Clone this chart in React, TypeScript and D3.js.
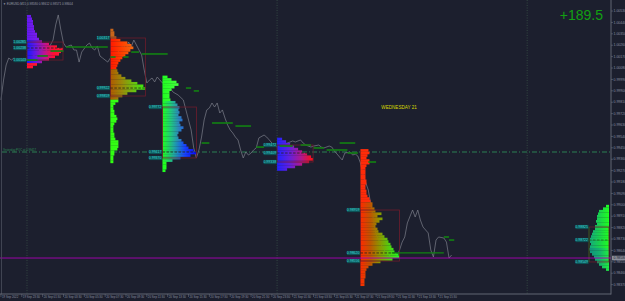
import React from "react";
import * as d3 from "d3";

const W = 625;
const H = 301;
const BG = "#1c1f2e";

// ---------------- data ----------------
// M15 bar index (0 = 20 Sep 2022 00:00) and close price
const closeBars = [-10,-9,-8,-7,-6,-5,-3,-2,-1,
  1,3,5,7,9,10,11,12,13,14,15,
  17,18,19,20,21,23,24,25,26,27,28,29,
  31,32,33,35,36,37,38,39,40,41,43,44,45,46,47,48,49,50,51,52,53,
  55,56,58,60,61,63,64,65,66,67,68,69,70,71,72,73,74,75,76,77,78,79,80,81,82,83,84,85,86,87,88,89,
  91,92,93,94,96,97,99,100,102,103,105,106,107,109,110,112,113,114,116,117,118,119,120,121,122,
  124,125,126,127,128,129,131,132,133,134,136,137,139,140,142,143,144,145,146,148,149,150,151,152,154,155,156,157,158,160,161,162,163];
const closePrices = [0.99828,0.99985,1.00104,1.00159,1.00143,1.00159,1.00135,1.00151,1.00143,
  1.00159,1.00183,1.00222,1.00206,1.00262,1.00301,1.00420,1.00499,1.00380,1.00277,1.00246,
  1.00262,1.00222,1.00222,1.00127,1.00206,1.00262,1.00277,1.00238,1.00222,1.00254,1.00175,1.00159,
  1.00127,1.00159,1.00183,1.00206,1.00238,1.00262,1.00222,1.00285,1.00246,1.00301,1.00222,1.00183,1.00064,0.99962,0.99985,1.00001,0.99970,1.00009,0.99985,0.99962,0.99946,
  0.99922,0.99891,0.99867,0.99828,0.99749,0.99591,0.99449,0.99370,0.99433,0.99535,0.99670,0.99749,0.99764,0.99804,0.99772,0.99804,0.99725,0.99749,0.99685,0.99630,0.99591,0.99567,0.99535,0.99512,0.99433,0.99370,0.99417,0.99393,0.99409,0.99433,0.99449,0.99528,
  0.99551,0.99535,0.99512,0.99488,0.99456,0.99449,0.99472,0.99488,0.99504,0.99496,0.99512,0.99488,0.99472,0.99456,0.99464,0.99472,0.99456,0.99449,0.99464,0.99456,0.99425,0.99401,0.99377,0.99354,0.99409,
  0.99417,0.99393,0.99401,0.99385,0.99330,0.99235,0.99117,0.98999,0.98880,0.98762,0.98683,0.98643,0.98604,0.98580,0.98596,0.98643,0.98706,0.98746,0.98857,0.98959,0.98904,0.98959,0.98880,0.98825,0.98778,0.98643,0.98588,0.98722,0.98746,0.98738,0.98706,0.98580,0.98604];

const priceTicks = [1.00530,1.00440,1.00350,1.00260,1.00170,1.00080,0.99990,0.99900,0.99810,0.99720,
  0.99630,0.99540,0.99450,0.99360,0.99270,0.99180,0.99090,0.99000,0.98910,0.98820,0.98730,0.98640,0.98550,0.98460,0.98370];

const timeTickBars = [-10,-2,6,14,22,30,38,46,54,62,70,78,86,94,102,110,118,126,134,142,150,158];
const timeTickLabels = ["19 Sep 2022","19 Sep 23:30","20 Sep 01:30","20 Sep 03:30","20 Sep 05:30","20 Sep 07:30",
  "20 Sep 09:30","20 Sep 11:30","20 Sep 13:30","20 Sep 15:30","20 Sep 17:30","20 Sep 19:30","20 Sep 21:30",
  "20 Sep 23:30","21 Sep 01:30","21 Sep 03:30","21 Sep 05:30","21 Sep 07:30","21 Sep 09:30","21 Sep 11:30",
  "21 Sep 13:30","21 Sep 15:30"];

const daySeparatorBars = [0, 96, 192];

// session market profiles (TPO counts per 2-pip row, from top price down)
const profile1Rows = [4,5,6,6,7,7,8,10,10,12,15,22,30,36,34,32,28,22,15,10,6];
const profile2Rows = [3,4,4,6,10,17,21,23,20,18,15,12,10,8,7,6,7,8,11,15,21,27,33,35,26,17,12,8,8,5,3,3,4,4,6,7,6,4,3,3,3,4,4,5,8,8,8,7,4,4,3,3,3];
const profile3Rows = [5,9,14,16,12,9,7,7,7,8,13,15,17,16,17,16,19,20,17,18,21,19,16,15,16,19,21,24,26,31,34,28,18,10,4,4,4,3];
const profile4Rows = [5,9,13,17,21,25,30,34,36,32,25,18,10];
const profile5Rows = [8,9,7,6,9,9,6,5,5,5,5,5,6,6,5,5,6,6,7,9,10,12,12,14,15,21,17,22,19,16,15,17,18,22,24,27,28,30,31,33,34,38,39,32,20,12,8,6,5,5,5,4,4,4];
const profile6Rows = [3,6,10,11,12,12,13,12,14,14,16,17,18,19,19,18,19,20,19,17,15,14,12,10,7,3];

const profileStartBars = [0, 32, 52, 96, 128, 223.4];
const profileTopPrices = [1.00499, 1.00390, 1.00020, 0.99530, 0.99440, 0.99000];
const profileVAH = [1.00285, 1.00317, 0.99772, 0.99472, 0.98959, 0.98825];
const profilePOC = [1.00238, 0.99922, 0.99417, 0.99409, 0.98620, 0.98722];
const profileVAL = [1.00143, 0.99859, 0.99370, 0.99338, 0.98556, 0.98549];
const rowPriceStep = 0.0002;

// green POC segments
const segStartBars = [0,4,9,15,32,37,40,44,61,64,67,71,80,88,97,105,110,115,123,120,131,160,162];
const segEndBars =   [4,8,14,31,34,39,43,54,63,66,70,79,86,91,102,109,114,123,127,126,134,162,164];
const segPrices = [1.00143,1.00175,1.00214,1.00246,1.00167,1.00167,1.00206,1.00191,0.99922,0.99899,0.99488,0.99646,0.99622,0.99456,0.99464,0.99472,0.99449,0.99433,0.99409,0.99488,0.99338,0.98746,0.98722];
const pocExtensionBars = [140, 160];

const refLinePrice = 0.99417;
const bidPrice = 0.98580;
const headerOHLC = [0.98580, 0.98612, 0.98571, 0.98604];
const rangeText = "+189.5";
const dayText = "WEDNESDAY 21";

// ---------------- styles ----------------
const palettes: { from: number; stops: string[] }[][] = [
  [ { from: 0, stops: ["#6418f0", "#8a1ee6", "#9c1ad8"] },
    { from: 10, stops: ["#1818ff", "#6a18e0", "#c01490", "#ff1030", "#ff1a3a"] },
    { from: 19, stops: ["#ff1030", "#ff2040"] } ],
  [ { from: 0, stops: ["#c8641a", "#d87018"] },
    { from: 4, stops: ["#ff1800", "#ff4000", "#f06a10", "#c8701e"] },
    { from: 16, stops: ["#b05a00", "#9a8a0a", "#6cc010", "#38f010"] },
    { from: 28, stops: ["#30ff10", "#48ff28"] } ],
  [ { from: 0, stops: ["#20ff20", "#48ff40", "#78ff60"] },
    { from: 10, stops: ["#20ff20", "#20c880", "#2a80c0", "#2050f0", "#1a30ff"] },
    { from: 26, stops: ["#20ff20", "#20a8a0", "#1840ff", "#0808ff"] },
    { from: 34, stops: ["#20ff20", "#30ff30"] } ],
  [ { from: 0, stops: ["#2020ff", "#6020e0", "#b01890", "#ff1010"] } ],
  [ { from: 0, stops: ["#ff2a08", "#ff3810"] },
    { from: 21, stops: ["#ff2a00", "#c05400", "#8c9800", "#50d010", "#20ff20"] } ],
  [ { from: 0, stops: ["#20ff20", "#18d050", "#14a880"] },
    { from: 17, stops: ["#20ee40", "#14b070", "#10907e"] } ],
];

export default function App() {
  const x = d3.scaleLinear().domain([0, 96]).range([27, 277.1]);
  const y = d3.scaleLinear().domain([0.98296, 1.00617]).range([294, 0]);
  const tpo = d3.scaleLinear().domain([0, 1]).range([0, 1]);
  const fmt = d3.format(".5f");
  const plotR = 611;
  const plotB = 294;

  const linePath = d3
    .line<number>()
    .x((_, i) => x(closeBars[i]))
    .y((d) => y(d))(closePrices) as string;

  const rowsList = [profile1Rows, profile2Rows, profile3Rows, profile4Rows, profile5Rows, profile6Rows];
  const profiles = rowsList.map((rows, p) => {
    const anchor = x(profileStartBars[p]);
    const rightAligned = p === 5;
    const maxW = tpo(d3.max(rows) as number);
    const pal = palettes[p];
    const palIdx = (k: number) => {
      let idx = 0;
      pal.forEach((g, j) => { if (k >= g.from) idx = j; });
      return idx;
    };
    return { rows, p, anchor, rightAligned, maxW, pal, palIdx };
  });

  const label = (px: number, py: number, txt: string, key: string) => (
    <g key={key}>
      <rect x={px - 13.5} y={py - 2.1} width={13} height={4.2} fill="#0d5256" />
      <text x={px - 1} y={py + 1.25} fontSize={3.5} fill="#40dcdc" textAnchor="end" fontFamily="Liberation Sans, Arial, sans-serif">{txt}</text>
    </g>
  );

  return (
    <svg width={W} height={H} style={{ position: "absolute", left: 0, top: 0, display: "block" }}>
      <defs>
        {profiles.map((pr) =>
          pr.pal.map((g, j) => {
            const x1 = pr.anchor;
            const x2 = pr.rightAligned ? pr.anchor - pr.maxW : pr.anchor + pr.maxW;
            return (
              <linearGradient key={`g${pr.p}_${j}`} id={`g${pr.p}_${j}`} gradientUnits="userSpaceOnUse" x1={x1} x2={x2} y1={0} y2={0}>
                {g.stops.map((c, s) => (
                  <stop key={s} offset={g.stops.length === 1 ? 0 : s / (g.stops.length - 1)} stopColor={c} />
                ))}
              </linearGradient>
            );
          })
        )}
      </defs>
      <rect x={0} y={0} width={W} height={H} fill={BG} />

      {/* day separators */}
      {daySeparatorBars.map((b) => (
        <line key={b} x1={x(b)} x2={x(b)} y1={0} y2={plotB} stroke="#3a5048" strokeWidth={0.8} strokeDasharray="1,1.5" />
      ))}

      {/* reference dash-dot line */}
      <line x1={2} x2={plotR} y1={y(refLinePrice)} y2={y(refLinePrice)} stroke="#2e8b57" strokeWidth={0.9} strokeDasharray="5,2,1,2" />
      <text x={3} y={y(refLinePrice) - 0.8} fontSize={2.8} fill="#2e8b57" fontFamily="Liberation Sans, Arial, sans-serif">{`Yesterday POC at ${fmt(refLinePrice)}`}</text>

      {/* price line */}
      <path d={linePath} fill="none" stroke="#7c808b" strokeWidth={0.7} />

      {/* profiles */}
      {profiles.map((pr) => {
        const top = profileTopPrices[pr.p];
        return (
          <g key={`p${pr.p}`}>
            {pr.rows.map((v, k) => {
              const y0 = y(top - k * rowPriceStep);
              const y1 = y(top - (k + 1) * rowPriceStep);
              const w = tpo(v);
              const rx = pr.rightAligned ? pr.anchor - w : pr.anchor;
              return <rect key={k} x={rx} y={y0} width={w} height={y1 - y0 + 0.15} fill={`url(#g${pr.p}_${pr.palIdx(k)})`} />;
            })}
          </g>
        );
      })}

      {/* value area boxes, POC lines, labels */}
      {profiles.map((pr) => {
        const bx0 = pr.rightAligned ? pr.anchor - pr.maxW : pr.anchor;
        const bx1 = pr.rightAligned ? pr.anchor : pr.anchor + pr.maxW;
        const yH = y(profileVAH[pr.p]);
        const yP = y(profilePOC[pr.p]);
        const yL = y(profileVAL[pr.p]);
        const lx = bx0;
        return (
          <g key={`va${pr.p}`}>
            <rect x={bx0} y={yH} width={bx1 - bx0} height={yL - yH} fill="none" stroke="#6e1c2c" strokeWidth={0.8} />
            <line x1={bx0} x2={bx1} y1={yP} y2={yP} stroke={pr.rightAligned ? "#1d6b1d" : "#262418"} strokeWidth={0.8} strokeDasharray="2.5,1.5" />
            {pr.rightAligned && <line x1={bx0} x2={bx0} y1={yH} y2={yL} stroke="#1d6b1d" strokeWidth={0.8} />}
            {label(lx, yH, fmt(profileVAH[pr.p]), "h")}
            {label(lx, yP, fmt(profilePOC[pr.p]), "p")}
            {label(lx, yL, fmt(profileVAL[pr.p]), "l")}
          </g>
        );
      })}

      {/* green segments */}
      {segPrices.map((pv, i) => (
        <line key={`s${i}`} x1={x(segStartBars[i])} x2={x(segEndBars[i])} y1={y(pv)} y2={y(pv)} stroke="#128212" strokeWidth={1.6} />
      ))}
      <line x1={x(pocExtensionBars[0])} x2={x(pocExtensionBars[1])} y1={y(profilePOC[4])} y2={y(profilePOC[4])} stroke="#128212" strokeWidth={1.2} />

      {/* bid line */}
      <line x1={0} x2={plotR} y1={y(bidPrice)} y2={y(bidPrice)} stroke="#a800b4" strokeWidth={0.9} />

      {/* texts */}
      <text x={x(136)} y={y(0.99772) + 1.8} fontSize={4.6} fill="#d8d800" fontFamily="Liberation Sans, Arial, sans-serif">{dayText}</text>
      <text x={603} y={20} fontSize={14} fill="#12a012" textAnchor="end" fontFamily="Liberation Sans, Arial, sans-serif">{rangeText}</text>
      <text x={3} y={4.6} fontSize={3} fill="#9a9eaa" fontFamily="Liberation Sans, Arial, sans-serif">{`▼ EURUSD,M15  ${headerOHLC.map(fmt).join(" ")}`}</text>

      {/* axes frame */}
      <line x1={1.5} x2={1.5} y1={0} y2={plotB} stroke="#4a4e5c" strokeWidth={0.8} />
      <line x1={plotR} x2={plotR} y1={0} y2={plotB + 0.5} stroke="#6a6e7c" strokeWidth={0.9} />
      <line x1={0} x2={plotR} y1={plotB} y2={plotB} stroke="#6a6e7c" strokeWidth={0.9} />

      {/* price axis */}
      {priceTicks.map((pv) => (
        <g key={pv}>
          <line x1={plotR} x2={plotR + 2} y1={y(pv)} y2={y(pv)} stroke="#6a6e7c" strokeWidth={0.6} />
          <text x={plotR + 2.5} y={y(pv) + 1.2} fontSize={3.5} fill="#8b90a0" fontFamily="Liberation Sans, Arial, sans-serif">{fmt(pv)}</text>
        </g>
      ))}
      <rect x={plotR + 1} y={y(bidPrice) - 2.3} width={13} height={4.6} fill="#8a8e9a" />
      <text x={plotR + 2.5} y={y(bidPrice) + 1.2} fontSize={3.5} fill="#1c1f2e" fontFamily="Liberation Sans, Arial, sans-serif">{fmt(bidPrice)}</text>

      {/* time axis */}
      {timeTickBars.map((b, i) => (
        <g key={b}>
          <line x1={x(b)} x2={x(b)} y1={plotB} y2={plotB + 3} stroke="#6a6e7c" strokeWidth={0.6} />
          <text x={x(b) + 1} y={298.3} fontSize={2.9} fill="#8b90a0" fontFamily="Liberation Sans, Arial, sans-serif">{timeTickLabels[i]}</text>
        </g>
      ))}
    </svg>
  );
}
